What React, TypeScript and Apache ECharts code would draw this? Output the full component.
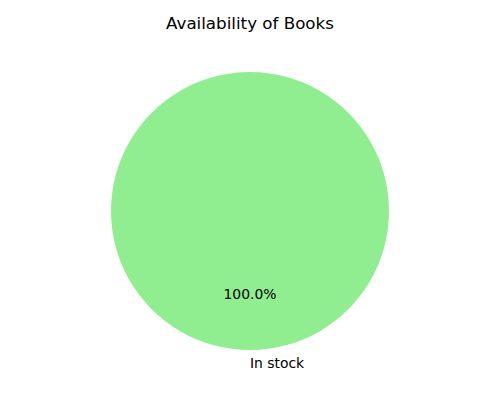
import React, { useEffect, useRef } from "react";
import * as echarts from "echarts";

const titleText = "Availability of Books";
const categories = ["In stock"];
const values = [100];
const colors = ["#90EE90"];

export default function App() {
  const ref = useRef<HTMLDivElement>(null);
  useEffect(() => {
    if (!ref.current) return;
    const chart = echarts.init(ref.current, null, { renderer: "svg" });
    const data = categories.map((c, i) => ({ name: c, value: values[i], itemStyle: { color: colors[i] } }));
    const ghost = categories.map((c, i) => ({ name: c, value: values[i], itemStyle: { color: "rgba(0,0,0,0)" } }));
    const font = "DejaVu Sans";
    chart.setOption({
      animation: false,
      title: {
        text: titleText,
        left: "center",
        top: 14,
        padding: 0,
        textStyle: { fontFamily: font, fontSize: 16.7, fontWeight: "normal", color: "#000" },
      },
      series: [
        {
          type: "pie",
          center: [250, 211],
          radius: [0, 139],
          startAngle: 90,
          clockwise: false,
          silent: true,
          label: { show: false },
          labelLine: { show: false },
          data,
        },
        {
          type: "pie",
          center: [250, 211],
          radius: [0, 167],
          startAngle: 90,
          clockwise: false,
          silent: true,
          label: {
            show: true,
            position: "inside",
            fontFamily: font,
            fontSize: 13.9,
            color: "#000",
            offset: [0, -4],
            formatter: (p: any) => p.percent.toFixed(1) + "%",
          },
          labelLine: { show: false },
          data: ghost,
        },
        {
          type: "pie",
          center: [250, 211],
          radius: [150, 156],
          startAngle: 90,
          clockwise: false,
          silent: true,
          label: {
            show: true,
            position: "inside",
            fontFamily: font,
            fontSize: 13.9,
            color: "#000",
            offset: [27, -4],
            formatter: (p: any) => p.name,
          },
          labelLine: { show: false },
          data: ghost,
        },
      ],
    });
    return () => chart.dispose();
  }, []);
  return (
    <div
      ref={ref}
      style={{ position: "fixed", left: 0, top: 0, width: 500, height: 400, background: "#fff" }}
    />
  );
}
